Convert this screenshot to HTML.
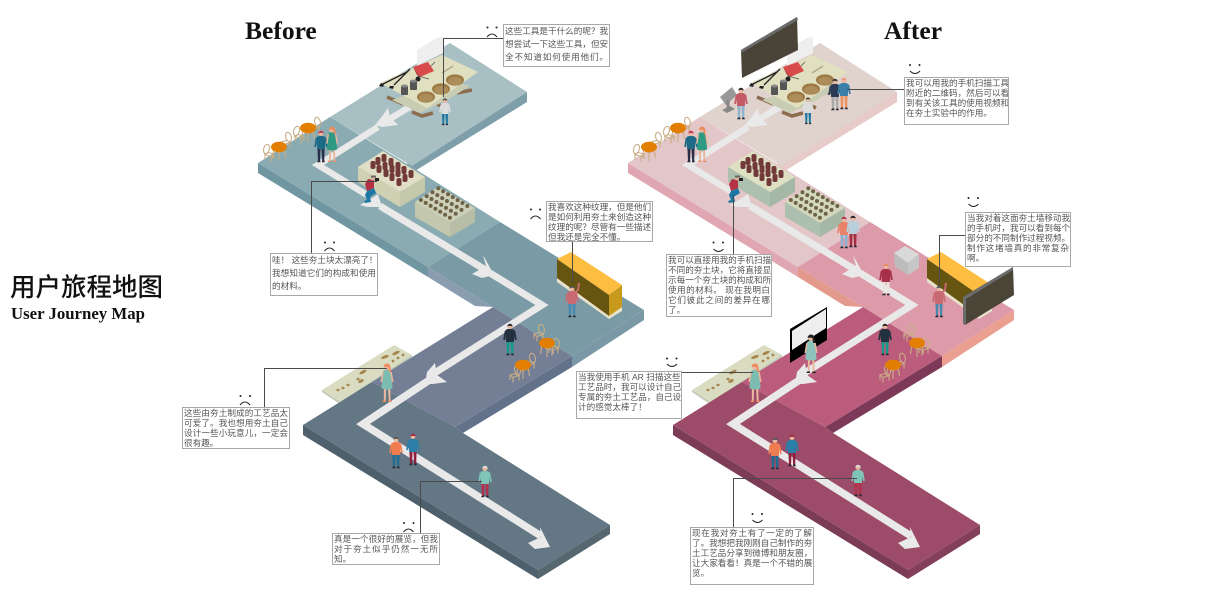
<!DOCTYPE html>
<html><head><meta charset="utf-8"><title>用户旅程地图</title>
<style>
html,body{margin:0;padding:0;background:#fff}
#w{position:relative;width:1212px;height:600px;overflow:hidden;background:#fff}
svg{position:absolute;left:0;top:0}
.t{position:absolute;font-family:"Liberation Serif",serif;font-weight:bold;color:#111;white-space:nowrap;line-height:1}
.x{position:absolute;box-sizing:border-box;border:1px solid #a8a8a8;background:#fff;color:#555;padding:0 1px;font:8.6px/10px "Liberation Sans","Noto Sans CJK SC",sans-serif;overflow:hidden}
.x div{text-align:justify;text-align-last:justify;height:10px;white-space:nowrap}
.x div.e{text-align-last:left}
.x.l div{height:13px;line-height:13px}
.bf{--c1:#a8c0c3;--c2:#8aabb2;--c3:#7a9ba5;--c4:#747f96;--c5:#647785;--s1:#7e9fa9;--s2:#6f96a1;--s3:#8a9db0;--s3b:#7b98a6;--s4:#64718a;--s5:#4f606d;--s6:#56676f;--b1:#d0d0b2;--b2:#c5c9ac;--bt:#e0dfc6;--c2b:#c3c7ad;--c2c:#b8bea6;--c2t:#ccd0b8}
.af{--c1:#e0d2cd;--c2:#e3c6c7;--c3:#dd9aa9;--c4:#bb5c7c;--c5:#9c4c68;--s1:#e6cbc8;--s2:#e0a6b1;--s3:#e39a8c;--s3b:#ea9f90;--s4:#7d3a58;--s5:#7c3c56;--s6:#843f5b;--b1:#adbfae;--b2:#a5b8a6;--bt:#dee0c4;--c2b:#adbfae;--c2c:#a5b8a6;--c2t:#d3d8bd}
</style></head><body><div id="w">
<svg width="1212" height="600" viewBox="0 0 1212 600" xmlns="http://www.w3.org/2000/svg">
<defs>
<g id="m"><path d="M-3.600-14h3.200l-.6 13h-2zM.4-14h3.200l-.4 13h-2z" style="fill:var(--l)"/><path d="M-3-1.500h2.400v1.700h-3.400zM1.200-1.500h2.200l.5 1.700h-3z" fill="#2a2a35"/><path d="M-4.500-25q4.500-2.500 9 0l-.6 12h-7.800z" style="fill:var(--t)"/><path d="M-4.400-24l-1.500 9M4.400-24l1.500 9" style="stroke:var(--t)" stroke-width="1.800" fill="none"/><circle cy="-28.500" r="2.500" fill="#e8b79e"/><path d="M-2.700-28.500a2.700 2.700 0 0 1 5.400 0q-2.700-1.500-5.400 0z" style="fill:var(--h)"/></g>
<g id="d"><path d="M-2.500-12h1.800l-.3 11h-1.500zM.8-12h1.800l.3 11h-1.500z" fill="#e8b79e"/><path d="M-3-1.200h2.200v1.200h-3zM1.200-1.200h2.200l.6 1.200h-3z" style="fill:var(--h)"/><path d="M-3-25q3-2 6 0l1.500 14q-4.500 2-9 0z" style="fill:var(--t)"/><path d="M-3.200-24l-1.400 8M3.200-24l1.400 8" stroke="#e8b79e" stroke-width="1.300" fill="none"/><circle cy="-28" r="2.400" fill="#e8b79e"/><path d="M-2.800-28a2.800 2.800 0 0 1 5.600 0l.4 4h-1.500l-.5-3.800q-2-.8-4-.2z" style="fill:var(--h)"/></g>
<g id="cr"><path d="M-2-12l7-3 2 5-6 4 1 5-6 1-1-2 3-1-2-5z" style="fill:var(--l)"/><path d="M-1-24l6 1 0 8-7 3-2-7z" style="fill:var(--t)"/><circle cx="4" cy="-25" r="2.500" fill="#d8b39a"/><path d="M2-27.500h5v2h-5z" fill="#666"/><rect x="6" y="-25" width="4" height="3" fill="#222"/></g>
<g id="ch" fill="none" stroke="#c8ad87" stroke-width="1.100"><ellipse cx="3.500" cy="-10" rx="2.800" ry="4.800" transform="rotate(-15 3.500 -10)"/><path d="M-4-5l6-1.500 3 2-6 2zM-4-5v5M5-4.500v5M-1-2.500v5" /></g>
<g id="tb"><path d="M-5 1l-1.500 10M5 1l1.500 10M0 3v11M-5 3l5 3 5-3" stroke="#c8ad87" stroke-width="1.100" fill="none"/><ellipse rx="8" ry="5.300" fill="#e27f00"/></g>
<g id="sc">
<polygon points="527,92 527,102 410,174 400,168" style="fill:var(--s1)"/>
<polygon points="258,163 258,173 428,277 428,267" style="fill:var(--s2)"/>
<polygon points="428,267 428,277 475,306 493,307" style="fill:var(--s3)"/>
<polygon points="644,310 644,320 572,367 572,356" style="fill:var(--s3b)"/>
<polygon points="450,43 527,92 412,166 330,117" style="fill:var(--c1)"/>
<polygon points="258,163 330,117 412,167 500,222 428,267" style="fill:var(--c2)"/>
<polygon points="500,222 644,310 572,356 493,307 428,267" style="fill:var(--c3)"/>
<polygon points="572,356 572,367 463,433 455,427" style="fill:var(--s4)"/>
<polygon points="322,390 394,345 412,355 340,402" fill="#d9dcc0"/>
<polygon points="322,390 322,392 340,404 412,357 412,355 340,402" fill="#bdc9b5"/>
<polygon points="493,307 572,356 455,427 372,382" style="fill:var(--c4)"/>
<polygon points="303,425 303,435 538,579 538,570" style="fill:var(--s5)"/>
<polygon points="538,570 538,579 610,534 610,525" style="fill:var(--s6)"/>
<polygon points="303,425 372,382 455,427 463,433 610,525 538,570" style="fill:var(--c5)"/>
<g fill="#a6854e"><ellipse cx="338" cy="390" rx="1.600" ry="1.200"/><ellipse cx="343" cy="388" rx="1.600" ry="1.200"/><ellipse cx="348" cy="385" rx="1.600" ry="1.200"/><ellipse cx="358" cy="379" rx="1.600" ry="1.200"/><ellipse cx="361" cy="381" rx="3" ry="1.600" transform="rotate(-25 361 381)"/><ellipse cx="363" cy="372" rx="4" ry="1.500" transform="rotate(-28 363 372)"/><ellipse cx="385" cy="357" rx="4" ry="1.500" transform="rotate(-20 385 357)"/><ellipse cx="396" cy="353" rx="4" ry="1.500" transform="rotate(-25 396 353)"/><circle cx="393" cy="361" r="1.400"/><circle cx="398" cy="358" r="1.400"/><circle cx="403" cy="355" r="1.400"/></g>
<g stroke="#e9e9e9" fill="none" stroke-linejoin="miter">
<path stroke-width="6.500" d="M413 105L383 123"/>
<path stroke-width="6.500" d="M378 127L318 165L367 195"/>
<path stroke-width="7" d="M380 206L484 269"/>
<path stroke-width="7" d="M490 273L542 305L433 374"/>
<path stroke-width="7.500" d="M428 381L363 424L541 536"/>
</g>
<g fill="#e9e9e9">
<polygon points="388,108 390,117 398,125 382,127 375,125 383,115"/>
<polygon points="378,194 382,207 367,207 360,205 372,198"/>
<polygon points="483,255 494,275 482,278 472,274 486,266"/>
<polygon points="435,363 437,375 447,382 433,384 425,384 427,372"/>
<polygon points="540,527 550,547 535,549 528,543 541,537"/>
<polygon points="463,67 470,70 466,75 458,72"/>
</g>
<g stroke="#8c6d4f" stroke-width="3.500" fill="none"><path d="M387 97l16 7M412 112l10 4 11-3M437 104l9 4M457 93l15-3"/></g>
<polygon points="392,100 405,106 420,113 447,100 470,86 450,80" fill="#c8ccb2"/>
<polygon points="417,50 437,38 443,37 443,53 417,66" fill="#eeeeee"/>
<polygon points="380,83 442,55 478,72 427,108" fill="#e0dfc0"/>
<g fill="#9e7b45"><ellipse cx="426" cy="97" rx="9" ry="5.600"/><ellipse cx="441" cy="89" rx="9" ry="5.600"/><ellipse cx="455" cy="80" rx="9" ry="5.600"/></g>
<g fill="#ad8d5a"><ellipse cx="426" cy="98" rx="7" ry="4"/><ellipse cx="441" cy="90" rx="7" ry="4"/><ellipse cx="455" cy="81" rx="7" ry="4"/></g>
<path d="M383 84L407 72M394 85L410 69" stroke="#222" stroke-width="1.300"/>
<path d="M384 84l-3-1-2 3 4 1zM394 86l-4 0-1 2 4 1z" fill="#222"/>
<polygon points="413,67 428,62 434,71 420,77" fill="#d94a4a"/><polygon points="413,67 417,75 420,77" fill="#a83030"/><path d="M418 76l11 3M431 66l4-4" stroke="#555" stroke-width=".8"/>
<circle cx="418" cy="79" r="2.500" fill="#222"/>
<g fill="#555"><rect x="401" y="86" width="7" height="9" rx="1"/><rect x="410" y="81" width="7" height="9" rx="1"/></g>
<g fill="#888"><ellipse cx="404.500" cy="86" rx="3.500" ry="1.500"/><ellipse cx="413.500" cy="81" rx="3.500" ry="1.500"/></g>
<path d="M442 73l11-7" stroke="#b5a88a" stroke-width="1.500"/>
<polygon points="358,167 383,151 425,177 400,192" style="fill:var(--bt)"/>
<polygon points="358,167 400,192 400,207 358,182" style="fill:var(--b1)"/>
<polygon points="400,192 425,177 425,192 400,207" style="fill:var(--b2)"/>
<g fill="#713a38"><rect x="381.500" y="154" width="5" height="8" rx="2"/><rect x="388.500" y="158" width="5" height="8" rx="2"/><rect x="395.500" y="162" width="5" height="8" rx="2"/><rect x="401.500" y="166" width="5" height="8" rx="2"/><rect x="408.500" y="170" width="5" height="8" rx="2"/><rect x="375.500" y="157" width="5" height="8" rx="2"/><rect x="382.500" y="162" width="5" height="8" rx="2"/><rect x="389.500" y="165" width="5" height="8" rx="2"/><rect x="395.500" y="169" width="5" height="8" rx="2"/><rect x="402.500" y="174" width="5" height="8" rx="2"/><rect x="370.500" y="161" width="5" height="8" rx="2"/><rect x="376.500" y="165" width="5" height="8" rx="2"/><rect x="383.500" y="169" width="5" height="8" rx="2"/><rect x="389.500" y="173" width="5" height="8" rx="2"/><rect x="396.500" y="178" width="5" height="8" rx="2"/></g>
<polygon points="415,202 438,187 475,208 450,223" style="fill:var(--c2t)"/>
<polygon points="415,202 450,223 450,237 415,217" style="fill:var(--c2b)"/>
<polygon points="450,223 475,208 475,222 450,237" style="fill:var(--c2c)"/>
<g fill="#6f6347"><circle cx="438.300" cy="188.300" r="2"/><circle cx="443.100" cy="191.200" r="2"/><circle cx="448" cy="194.200" r="2"/><circle cx="452.800" cy="197.100" r="2"/><circle cx="457.600" cy="200.100" r="2"/><circle cx="462.500" cy="203" r="2"/><circle cx="467.300" cy="206" r="2"/><circle cx="432.500" cy="192.200" r="2"/><circle cx="437.300" cy="195.100" r="2"/><circle cx="442.200" cy="198.100" r="2"/><circle cx="447" cy="201" r="2"/><circle cx="451.800" cy="204" r="2"/><circle cx="456.700" cy="206.900" r="2"/><circle cx="461.500" cy="209.900" r="2"/><circle cx="426.700" cy="196.100" r="2"/><circle cx="431.500" cy="199" r="2"/><circle cx="436.400" cy="202" r="2"/><circle cx="441.200" cy="204.900" r="2"/><circle cx="446" cy="207.900" r="2"/><circle cx="450.900" cy="210.800" r="2"/><circle cx="455.700" cy="213.800" r="2"/><circle cx="420.900" cy="200" r="2"/><circle cx="425.700" cy="202.900" r="2"/><circle cx="430.600" cy="205.900" r="2"/><circle cx="435.400" cy="208.800" r="2"/><circle cx="440.200" cy="211.800" r="2"/><circle cx="445.100" cy="214.700" r="2"/><circle cx="449.900" cy="217.700" r="2"/></g>
<polygon points="557,278 609,315 622,307 622,311 609,319 557,282" fill="#e8e2cc"/>
<polygon points="557,259 609,295 609,316 557,278" fill="#655511"/>
<polygon points="609,295 622,285 622,307 609,316" fill="#c79a1c"/>
<polygon points="557,259 571,252 622,285 609,295" fill="#fdbd40"/>
<use href="#ch" transform="translate(270,159) scale(-1,1)"/><use href="#ch" transform="translate(300,141) scale(-1,1)"/><use href="#ch" transform="translate(285,147)"/><use href="#ch" transform="translate(314,132)"/>
<use href="#tb" transform="translate(279,147)"/><use href="#tb" transform="translate(308,128)"/>
<use href="#ch" transform="translate(538,339)"/><use href="#ch" transform="translate(553,353)"/><use href="#ch" transform="translate(529,368)"/><use href="#ch" transform="translate(514,380)"/>
<use href="#tb" transform="translate(547,343)"/><use href="#tb" transform="translate(523,365)"/>
</g>
</defs>

<use href="#sc" class="bf"/>
<use href="#sc" class="af" transform="translate(370,0)"/>

<!-- After extras -->
<polygon points="741,50 797,17 798,50 742,78" fill="#4a4438"/><polygon points="741,50 797,17 798,20 741,53" fill="#6a6a6a"/>
<polygon points="963,297 1013,267 1014,295 965,325" fill="#4b4538"/><polygon points="963,297 1013,267 1013,270 966,299 966,325 963,324" fill="#6c6c6c"/>
<polygon points="894,253 905,246 919,254 908,263" fill="#d9d9d9"/><polygon points="894,253 908,263 908,275 895,267" fill="#bcbcbc"/><polygon points="908,263 919,254 919,268 908,275" fill="#c6c6c6"/>
<polygon points="790,329 827,307 827,340 790,363" fill="#000"/><polygon points="792,331 826,309 826,328 792,350" fill="#eee"/>
<polygon points="720,97 732,87 737,95 726,105" fill="#999"/><path d="M728 100v12" stroke="#888" stroke-width="3"/><polygon points="722,110 730,106 735,109 727,113" fill="#888"/>

<!-- People before -->
<use href="#m" transform="translate(445,125) scale(.85)" style="--t:#ddd;--l:#1f78a4;--h:#444"/>
<use href="#m" transform="translate(321,162)" style="--t:#1d6b87;--l:#2a2f4c;--h:#c0334d"/>
<use href="#d" transform="translate(332,162) scale(1.150)" style="--t:#2e9a84;--h:#ea8a5e"/>
<use href="#cr" transform="translate(369,203)" style="--t:#b53244;--l:#1f78a4"/>
<use href="#m" transform="translate(572,317)" style="--t:#c96a72;--l:#4a88b0;--h:#555"/>
<path d="M574 293l4-3 1-7" stroke="#c96a72" stroke-width="2" fill="none"/>
<use href="#m" transform="translate(510,355)" style="--t:#22303f;--l:#159a8a;--h:#222"/>
<use href="#d" transform="translate(387,402) scale(1.250)" style="--t:#7dbcb0;--h:#ef8a60"/>
<use href="#m" transform="translate(396,468)" style="--t:#ef7d50;--l:#1f6d90;--h:#555"/>
<use href="#m" transform="translate(413,465)" style="--t:#2a7ea8;--l:#8e1f3e;--h:#a02040"/>
<use href="#m" transform="translate(485,497)" style="--t:#7fc4b8;--l:#b5304a;--h:#ddd"/>

<!-- People after -->
<use href="#m" transform="translate(741,119)" style="--t:#c45a66;--l:#8db4d0;--h:#222"/>
<use href="#m" transform="translate(808,124) scale(.85)" style="--t:#ddd;--l:#1f78a4;--h:#444"/>
<use href="#m" transform="translate(835,110)" style="--t:#2d3a55;--l:#aaa;--h:#333"/>
<use href="#m" transform="translate(844,109)" style="--t:#3a80a8;--l:#ee9060;--h:#e89a80"/>
<use href="#m" transform="translate(691,162)" style="--t:#1d6b87;--l:#2a2f4c;--h:#c0334d"/>
<use href="#d" transform="translate(702,162) scale(1.150)" style="--t:#2e9a84;--h:#ea8a5e"/>
<use href="#cr" transform="translate(733,203)" style="--t:#b53244;--l:#1f78a4"/>
<use href="#m" transform="translate(844,248)" style="--t:#e8836a;--l:#8db4d0;--h:#b03050"/>
<use href="#m" transform="translate(853,247)" style="--t:#b8d0dc;--l:#a0303c;--h:#222"/>
<use href="#m" transform="translate(886,295)" style="--t:#a83048;--l:#e8e4dc;--h:#ea8a5e"/>
<use href="#m" transform="translate(939,317)" style="--t:#c96a72;--l:#4a88b0;--h:#555"/>
<path d="M941 293l4-3 1-7" stroke="#c96a72" stroke-width="2" fill="none"/>
<use href="#m" transform="translate(885,355)" style="--t:#22303f;--l:#159a8a;--h:#222"/>
<use href="#d" transform="translate(811,373) scale(1.250)" style="--t:#8cc4bc;--h:#222"/>
<use href="#d" transform="translate(755,402) scale(1.250)" style="--t:#7dbcb0;--h:#ef8a60"/>
<use href="#m" transform="translate(775,469)" style="--t:#ef7d50;--l:#1f6d90;--h:#555"/>
<use href="#m" transform="translate(792,466)" style="--t:#2a7ea8;--l:#8e1f3e;--h:#a02040"/>
<use href="#m" transform="translate(858,496)" style="--t:#7fc4b8;--l:#b5304a;--h:#ddd"/>

<!-- Connectors -->
<g fill="none" stroke="#4a4a4a" stroke-width="1">
<path d="M503 38.500H443.500V97"/>
<path d="M311.500 254V181.500H377"/>
<path d="M572.500 242V283"/>
<path d="M264.500 407V368.500H387"/>
<path d="M420.500 533V481.500H482"/>
<path d="M904 89.500H847"/>
<path d="M733.500 255V195"/>
<path d="M966 235.500H939.500V287"/>
<path d="M681 372.500H753"/>
<path d="M733.500 528V478.500H857"/>
</g>

<!-- Faces -->
<g fill="#222"><circle cx="487.500" cy="27.500" r="1"/><circle cx="496.500" cy="27.500" r="1"/><circle cx="325" cy="242.500" r="1"/><circle cx="334" cy="242.500" r="1"/><circle cx="531" cy="209.500" r="1"/><circle cx="540" cy="209.500" r="1"/><circle cx="240.500" cy="396" r="1"/><circle cx="250" cy="396" r="1"/><circle cx="404" cy="523" r="1"/><circle cx="413.500" cy="523" r="1"/>
<circle cx="910" cy="65" r="1"/><circle cx="919.500" cy="65" r="1"/><circle cx="713.500" cy="242.500" r="1"/><circle cx="723" cy="242.500" r="1"/><circle cx="968.500" cy="198" r="1"/><circle cx="978" cy="198" r="1"/><circle cx="667" cy="358.500" r="1"/><circle cx="676.500" cy="358.500" r="1"/><circle cx="752.500" cy="514" r="1"/><circle cx="762" cy="514" r="1"/></g>
<g fill="none" stroke="#222" stroke-width="1">
<path d="M487 37q5-6 10 0M324.500 251q5-6 10 0M530.500 219q5-6 10 0M240 405q5-6 10 0M403.500 532q5-6 10 0"/>
<path d="M910 71q5 5 10 0M713.500 249q5 5 10 0M968.500 204q5 5 10 0M667 364q5 5 10 0M752.500 520q5 5 10 0"/>
</g>
</svg>

<div class="t" style="left:245px;top:18px;font-size:25.500px">Before</div>
<div class="t" style="left:884px;top:18px;font-size:25.500px">After</div>
<div class="t" style="left:10px;top:274px;font:500 25.500px/29px 'Liberation Sans','Noto Sans CJK SC',sans-serif;color:#111">用户旅程地图</div>
<div class="t" style="left:11px;top:306px;font-size:16.800px">User Journey Map</div>

<div class="x l" style="left:503px;top:24px;width:107px;height:43px"><div>这些工具是干什么的呢？我</div><div>想尝试一下这些工具，但安</div><div>全不知道如何使用他们。</div></div>
<div class="x l" style="left:270px;top:253px;width:108px;height:43px"><div>哇！ 这些夯土块太漂亮了！</div><div>我想知道它们的构成和使用</div><div class="e">的材料。</div></div>
<div class="x" style="left:546px;top:201px;width:107px;height:41px"><div>我喜欢这种纹理，但是他们</div><div>是如何利用夯土来创造这种</div><div>纹理的呢？尽管有一些描述</div><div class="e">但我还是完全不懂。</div></div>
<div class="x" style="left:182px;top:407px;width:108px;height:42px"><div>这些由夯土制成的工艺品太</div><div>可爱了。我也想用夯土自己</div><div>设计一些小玩意儿，一定会</div><div class="e">很有趣。</div></div>
<div class="x" style="left:332px;top:533px;width:108px;height:32px"><div>真是一个很好的展览，但我</div><div>对于夯土似乎仍然一无所</div><div class="e">知。</div></div>
<div class="x" style="left:904px;top:77px;width:105px;height:48px"><div>我可以用我的手机扫描工具</div><div>附近的二维码，然后可以看</div><div>到有关该工具的使用视频和</div><div class="e">在夯土实验中的作用。</div></div>
<div class="x" style="left:666px;top:254px;width:106px;height:63px"><div>我可以直接用我的手机扫描</div><div>不同的夯土块，它将直接显</div><div>示每一个夯土块的构成和所</div><div>使用的材料。 现在我明白</div><div>它们彼此之间的差异在哪</div><div class="e">了。</div></div>
<div class="x" style="left:965px;top:212px;width:106px;height:55px"><div>当我对着这面夯土墙移动我</div><div>的手机时，我可以看到每个</div><div>部分的不同制作过程视频。</div><div>制作这堵墙真的非常复杂</div><div class="e">啊。</div></div>
<div class="x" style="left:576px;top:371px;width:106px;height:48px"><div>当我使用手机 AR 扫描这些</div><div>工艺品时，我可以设计自己</div><div>专属的夯土工艺品，自己设</div><div class="e">计的感觉太棒了！</div></div>
<div class="x" style="left:690px;top:527px;width:124px;height:58px"><div>现在我对夯土有了一定的了解</div><div>了。我想把我刚刚自己制作的夯</div><div>土工艺品分享到微博和朋友圈，</div><div>让大家看看！真是一个不错的展</div><div class="e">览。</div></div>
</div></body></html>
